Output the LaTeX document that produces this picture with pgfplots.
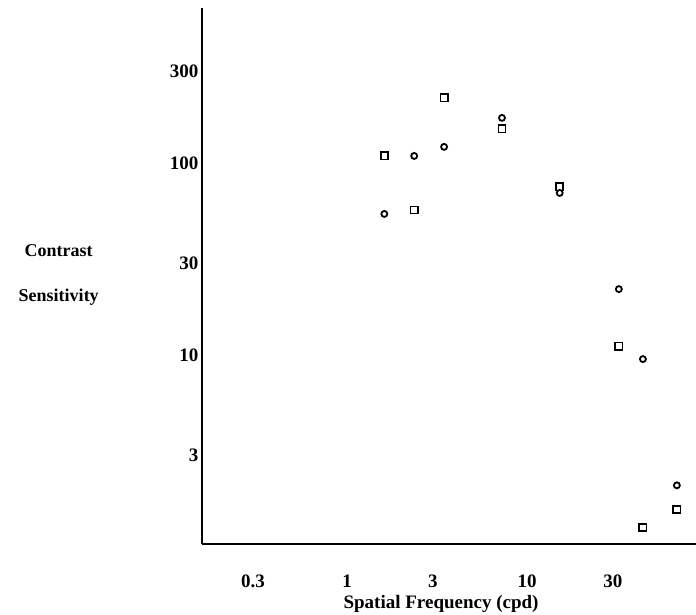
\documentclass[border=0pt]{standalone}
\usepackage{fontspec}
\setmainfont{Liberation Serif}
\usepackage{pgfplots}
\pgfplotsset{compat=1.18}

\begin{document}
\begin{tikzpicture}
\begin{axis}[
    name=ax,
    xmode=log, ymode=log,
    scale only axis,
    width=494pt, height=536pt,
    xmin=0.156, xmax=87,
    ymin=0.99, ymax=610,
    axis lines*=left,
    axis line style={line width=1.7pt, -},
    tick style={draw=none},
    xtick={0.3,1,3,10,30}, xticklabels={0.3,1,3,10,30},
    ytick={3,10,30,100,300}, yticklabels={3,10,30,100,300},
    tick label style={font=\bfseries\fontsize{19}{22}\selectfont},
    xticklabel style={yshift=-27pt},
    yticklabel style={yshift=-4pt},
    xlabel={Spatial Frequency (cpd)},
    xlabel style={font=\bfseries\fontsize{19}{22}\selectfont,
        at={(axis description cs:0.484,-0.111)}, anchor=center},
    ylabel={Contrast\\[24pt]Sensitivity},
    ylabel style={font=\bfseries\fontsize{18}{21}\selectfont, rotate=-90,
        align=center, at={(axis description cs:-0.29,0.502)}, anchor=center},
]
% circles
\addplot[only marks, mark=o, mark size=3pt, line width=1.8pt] coordinates {
    (1.61,51.7) (2.36,103.6) (3.46,115.5) (7.26,163.5)
    (15.2,66.5) (32.4,21.0) (44.1,9.08) (68.1,2.0)};
% squares
\addplot[only marks, mark=square, mark size=3.6pt, line width=1.7pt] coordinates {
    (1.61,103.6) (2.36,54.2) (3.46,208) (7.26,143.3)
    (15.2,71.5) (32.4,10.6) (44.1,1.21) (68.1,1.50)};
\end{axis}
\pgfresetboundingbox
\path[use as bounding box] ([xshift=-202pt,yshift=-70pt]ax.south west) rectangle ([yshift=8pt]ax.north east);
\end{tikzpicture}
\end{document}
